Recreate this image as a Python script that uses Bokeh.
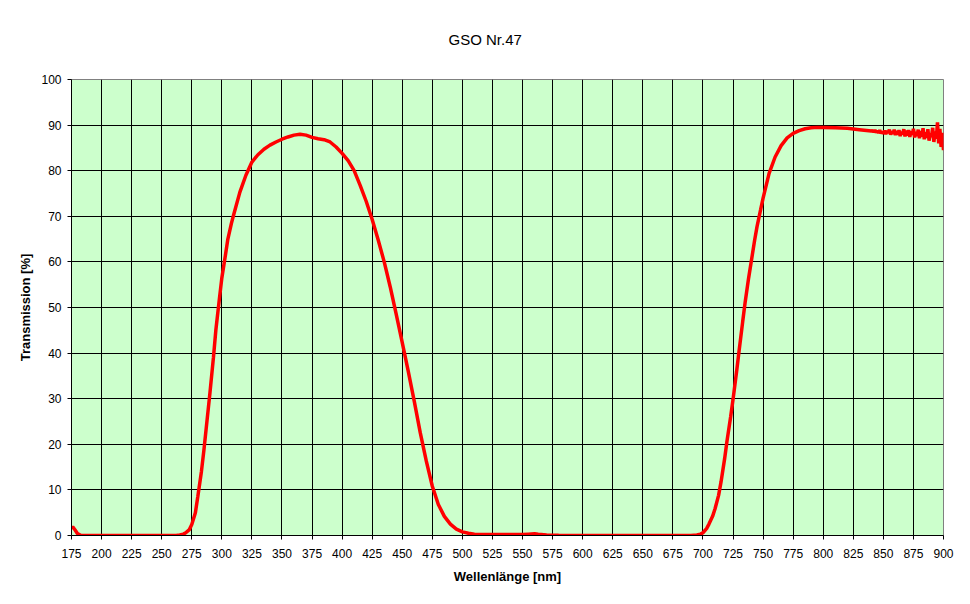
from bokeh.plotting import figure
from bokeh.models import FixedTicker, Range1d
from bokeh.embed import file_html
from bokeh.resources import INLINE

# ---- data ----
wavelength = [
    175, 176, 178, 180, 183, 200, 225, 250, 262, 265, 268, 270, 273, 275, 278,
    280, 283, 285, 288, 290, 293, 295, 298, 300, 303, 305, 308, 310, 315, 320,
    325, 330, 335, 340, 345, 350, 355, 360, 365, 370, 375, 380, 385, 390, 395,
    400, 405, 410, 415, 420, 425, 430, 435, 440, 445, 450, 455, 460, 465, 470,
    475, 480, 485, 490, 495, 500, 505, 510, 520, 530, 540, 550, 555, 560, 563,
    570, 580, 600, 625, 650, 675, 690, 695, 698, 700, 703, 705, 708, 710, 713,
    715, 718, 720, 723, 725, 728, 730, 733, 735, 738, 740, 743, 745, 748, 750,
    755, 760, 765, 770, 775, 780, 785, 790, 795, 800, 810, 820, 830, 840,
    841, 842, 843, 844, 845, 846, 847, 848, 849, 850,
    851, 852, 853, 854, 855, 856, 857, 858, 859, 860,
    861, 862, 863, 864, 865, 866, 867, 868, 869, 870,
    871, 872, 873, 874, 875, 876, 877, 878, 879, 880,
    881, 882, 883, 884, 885, 886, 887, 888, 889, 890,
    891, 892, 893, 894, 895, 896, 897, 898, 899, 900,
]
transmission = [
    1.5, 1.9, 1.2, 0.4, 0.0, 0.0, 0.0, 0.0, 0.0, 0.1, 0.3, 0.6, 1.3, 2.4, 5.0,
    8.5, 14.0, 18.5, 26.0, 31.0, 39.0, 45.0, 52.0, 56.5, 61.5, 65.0, 68.5, 70.5, 75.3, 79.0,
    81.9, 83.5, 84.7, 85.6, 86.3, 86.9, 87.4, 87.8, 88.0, 87.8, 87.3, 87.0, 86.8, 86.3, 85.2,
    83.8, 82.2, 80.0, 76.8, 73.3, 69.3, 64.8, 60.0, 54.5, 48.5, 42.3, 36.0, 29.4, 22.5, 16.3,
    10.8, 6.8, 4.2, 2.5, 1.4, 0.8, 0.5, 0.3, 0.2, 0.2, 0.2, 0.2, 0.3, 0.4, 0.3,
    0.1, 0.05, 0.0, 0.0, 0.0, 0.0, 0.0, 0.1, 0.3, 0.6, 1.5, 2.5, 4.2, 5.8, 8.8,
    11.7, 16.8, 20.7, 26.0, 29.8, 36.0, 40.4, 46.8, 51.0, 56.5, 59.8, 64.8, 67.8, 71.5, 74.0,
    79.4, 83.0, 85.5, 87.2, 88.2, 88.8, 89.2, 89.4, 89.5, 89.5, 89.4, 89.3, 89.0, 88.7,
    88.8, 88.5, 88.9, 88.4, 88.7, 88.3, 88.9, 88.2, 88.6, 88.1,
    88.8, 88.0, 88.7, 88.3, 89.0, 87.9, 88.6, 88.1, 89.0, 87.8,
    88.7, 87.9, 88.9, 87.6, 88.5, 88.0, 89.1, 87.5, 88.8, 87.7,
    88.9, 87.4, 88.6, 87.9, 89.2, 87.3, 88.5, 87.6, 89.0, 87.1,
    88.7, 87.5, 89.3, 86.9, 88.4, 87.2, 89.1, 86.6, 88.2, 87.4,
    89.4, 86.3, 88.6, 87.0, 90.6, 86.0, 89.2, 85.2, 88.3, 84.5,
]
x_ticks = list(range(175, 901, 25))
y_ticks = list(range(0, 101, 10))

FONT = "Liberation Sans"

p = figure(
    width=962, height=596,
    x_range=Range1d(175, 900), y_range=Range1d(0, 100),
    output_backend="svg", toolbar_location=None,
    title="GSO Nr.47",
    min_border_left=71, min_border_right=19, min_border_top=79, min_border_bottom=61,
)

p.background_fill_color = "#CCFFCC"
p.border_fill_color = "white"
p.outline_line_color = "#808080"
p.outline_line_width = 1

p.title.align = "left"
p.title.vertical_align = "top"
p.title.offset = 377
p.title.standoff = 60
p.title.text_font = FONT
p.title.text_font_size = "15px"
p.title.text_font_style = "normal"
p.title.text_color = "black"

p.xaxis.ticker = FixedTicker(ticks=x_ticks)
p.yaxis.ticker = FixedTicker(ticks=y_ticks)
p.xgrid.ticker = FixedTicker(ticks=x_ticks)
p.ygrid.ticker = FixedTicker(ticks=y_ticks)
p.grid.grid_line_color = "black"
p.grid.grid_line_width = 1
p.grid.grid_line_alpha = 1.0

for ax in (p.xaxis, p.yaxis):
    ax.axis_line_color = "black"
    ax.major_tick_line_color = "black"
    ax.major_tick_out = 4
    ax.major_tick_in = 0
    ax.minor_tick_line_color = None
    ax.major_label_text_font = FONT
    ax.major_label_text_font_size = "12px"
    ax.major_label_text_color = "black"
    ax.axis_label_text_font = FONT
    ax.axis_label_text_font_size = "13px"
    ax.axis_label_text_font_style = "bold"
    ax.axis_label_text_color = "black"

p.xaxis.axis_label = "Wellenlänge [nm]"
p.yaxis.axis_label = "Transmission [%]"
p.xaxis.major_label_standoff = 9
p.xaxis.axis_label_standoff = 8
p.yaxis.major_label_standoff = 6
p.yaxis.axis_label_standoff = 5

p.line(wavelength, transmission, line_color="#FF0000", line_width=3.5)

open("out.html", "w").write(file_html(p, INLINE))
